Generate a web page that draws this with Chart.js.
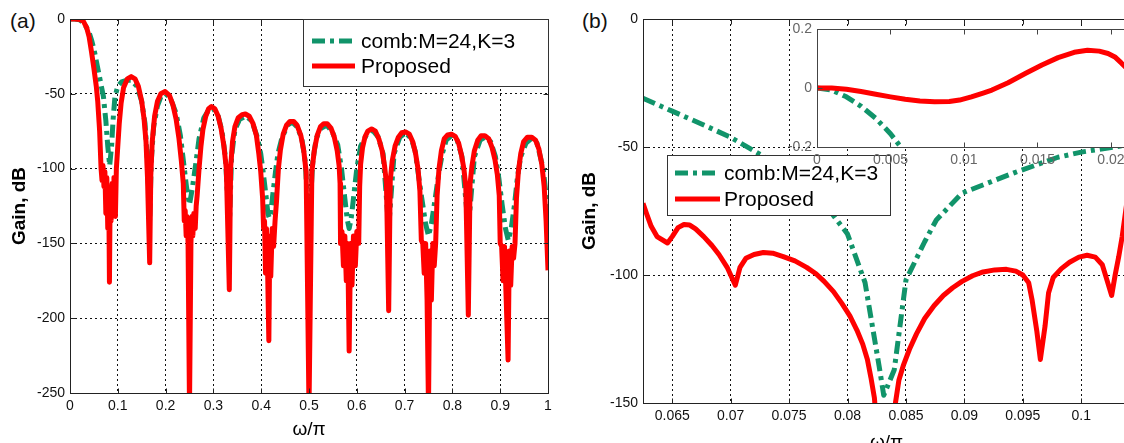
<!DOCTYPE html>
<html lang="en">
<head>
<meta charset="UTF-8" />
<title>Gain response</title>
<script src="https://cdn.jsdelivr.net/npm/chart.js@4"></script>
<style>
  html, body { margin: 0; padding: 0; background: #fff; overflow: hidden; }
  body { width: 1124px; height: 443px; position: relative; font-family: Arial, "Liberation Sans", sans-serif; }
  canvas { position: absolute; top: 0; }
  #chartA { left: 0; }
  #chartB { left: 580px; }
  #chartC { left: 777px; }
  .tag { position: absolute; top: 9px; font-size: 21px; line-height: 24px; color: #111; }
</style>
</head>
<body>
<div class="tag" style="left:10px">(a)</div>
<div class="tag" style="left:582px">(b)</div>
<canvas id="chartA" width="560" height="443"></canvas>
<canvas id="chartB" width="580" height="443"></canvas>
<canvas id="chartC" width="430" height="180"></canvas>
<script>
const FONT = 'Arial, "Liberation Sans", sans-serif';
const RED = '#ff0000';
const GREEN = '#11946a';
const DASHDOT = [13, 5, 4, 5];

// tick labels
const xTicksA = [0, 0.1, 0.2, 0.3, 0.4, 0.5, 0.6, 0.7, 0.8, 0.9, 1];
const yTicksA = [0, -50, -100, -150, -200, -250];
const xTicksB = [0.065, 0.07, 0.075, 0.08, 0.085, 0.09, 0.095, 0.1];
const yTicksB = [0, -50, -100, -150];
const xTicksC = [0, 0.005, 0.01, 0.015, 0.02, 0.025];
const yTicksC = [-0.2, 0, 0.2];

const seriesNames = ['comb:M=24,K=3', 'Proposed'];

// (a) full band, [w/pi, dB]
const combA = [
  [0,0],[0.01,0],[0.02,-0.5],[0.03,-3],[0.04,-9],[0.045,-14],[0.05,-20],[0.055,-28],[0.06,-36],
  [0.065,-44],[0.07,-52],[0.075,-68],[0.079,-85],[0.083,-98],[0.087,-85],[0.09,-68],[0.094,-52],
  [0.1,-45],[0.108,-42],[0.118,-41],[0.128,-41],[0.14,-45],[0.15,-55],[0.157,-70],[0.162,-95],
  [0.1667,-135],[0.17,-95],[0.175,-72],[0.183,-58],[0.19,-52],[0.2,-50],[0.21,-53],[0.222,-63],
  [0.231,-78],[0.238,-97],[0.244,-113],[0.25,-124],[0.256,-113],[0.263,-97],[0.27,-80],[0.28,-66],
  [0.29,-61],[0.3,-60],[0.31,-65],[0.318,-75],[0.325,-92],[0.3333,-140],[0.338,-92],[0.345,-74],
  [0.355,-67],[0.368,-65],[0.38,-68],[0.392,-79],[0.399,-90],[0.404,-102],[0.41,-118],[0.414,-130],
  [0.417,-133],[0.42,-130],[0.424,-118],[0.43,-102],[0.435,-90],[0.443,-80],[0.455,-71],[0.465,-69],
  [0.475,-72],[0.485,-80],[0.492,-95],[0.5,-140],[0.508,-95],[0.515,-80],[0.525,-73],[0.537,-71],
  [0.548,-75],[0.56,-84],[0.568,-100],[0.575,-120],[0.58,-134],[0.584,-140],[0.588,-134],[0.593,-120],
  [0.6,-100],[0.608,-85],[0.621,-77],[0.632,-74],[0.645,-79],[0.655,-90],[0.6667,-140],[0.678,-90],
  [0.69,-79],[0.702,-76],[0.714,-80],[0.722,-88],[0.728,-102],[0.736,-120],[0.744,-137],[0.75,-145],
  [0.756,-137],[0.764,-120],[0.772,-102],[0.779,-90],[0.787,-81],[0.798,-78],[0.81,-81],[0.82,-92],
  [0.8333,-140],[0.846,-92],[0.858,-81],[0.868,-79],[0.88,-82],[0.89,-92],[0.897,-106],[0.904,-124],
  [0.911,-140],[0.917,-148],[0.923,-140],[0.93,-124],[0.936,-106],[0.943,-92],[0.954,-83],
  [0.965,-80],[0.977,-83],[0.99,-100],[1,-130]
];
const propA = [
  [0,0],[0.01,0],[0.02,-0.3],[0.028,-1.5],[0.035,-6],[0.04,-12],[0.045,-22],[0.05,-33],[0.055,-45],
  [0.058,-55],[0.062,-75],[0.065,-100],[0.067,-108],[0.069,-98],[0.071,-112],[0.073,-102],
  [0.075,-130],[0.077,-106],[0.079,-140],[0.081,-112],[0.0825,-176],[0.084,-118],[0.086,-135],
  [0.088,-110],[0.09,-130],[0.092,-106],[0.095,-132],[0.097,-100],[0.1,-85],[0.103,-70],[0.107,-56],
  [0.112,-46],[0.12,-40],[0.128,-38.5],[0.136,-40],[0.143,-45],[0.15,-55],[0.155,-67],[0.159,-82],
  [0.162,-105],[0.1667,-163],[0.169,-105],[0.172,-82],[0.177,-65],[0.183,-55],[0.19,-50],
  [0.199,-48.5],[0.208,-51],[0.215,-57],[0.222,-67],[0.228,-80],[0.233,-95],[0.237,-110],
  [0.239,-135],[0.241,-128],[0.243,-145],[0.245,-132],[0.247,-150],[0.25,-260],[0.253,-150],
  [0.255,-132],[0.257,-145],[0.259,-130],[0.262,-140],[0.264,-125],[0.266,-118],[0.27,-100],
  [0.274,-85],[0.278,-74],[0.284,-65],[0.29,-60],[0.296,-58.5],[0.303,-60],[0.31,-65],[0.316,-73],
  [0.322,-85],[0.327,-100],[0.3333,-181],[0.336,-100],[0.34,-82],[0.345,-72],[0.352,-66],[0.36,-64],
  [0.367,-63.5],[0.375,-65],[0.383,-70],[0.39,-78],[0.395,-90],[0.399,-102],[0.403,-120],
  [0.405,-140],[0.407,-135],[0.409,-170],[0.411,-140],[0.413,-160],[0.416,-215],[0.418,-145],
  [0.42,-172],[0.423,-140],[0.426,-152],[0.429,-135],[0.432,-122],[0.436,-100],[0.44,-88],
  [0.446,-77],[0.453,-71],[0.46,-68.5],[0.468,-68.5],[0.475,-71],[0.483,-78],[0.489,-88],
  [0.494,-102],[0.5,-260],[0.506,-102],[0.511,-88],[0.517,-78],[0.524,-72],[0.531,-70],[0.538,-70],
  [0.546,-73],[0.553,-79],[0.559,-88],[0.563,-98],[0.565,-110],[0.566,-150],[0.569,-142],
  [0.572,-165],[0.575,-145],[0.578,-175],[0.581,-150],[0.584,-222],[0.587,-150],[0.59,-178],
  [0.593,-145],[0.597,-165],[0.6,-142],[0.604,-150],[0.606,-112],[0.608,-97],[0.612,-86],
  [0.617,-79],[0.623,-75],[0.631,-73.5],[0.639,-75],[0.646,-80],[0.653,-88],[0.658,-98],[0.662,-110],
  [0.6667,-195],[0.67,-108],[0.674,-95],[0.68,-85],[0.687,-79],[0.694,-76],[0.702,-75.5],[0.71,-77],
  [0.717,-82],[0.723,-90],[0.728,-100],[0.732,-115],[0.735,-148],[0.738,-150],[0.741,-170],
  [0.744,-150],[0.747,-188],[0.75,-260],[0.753,-155],[0.756,-188],[0.759,-150],[0.762,-165],
  [0.765,-150],[0.768,-118],[0.772,-100],[0.777,-88],[0.783,-80],[0.79,-77.5],[0.798,-77],
  [0.806,-78.5],[0.813,-83],[0.819,-91],[0.824,-100],[0.828,-112],[0.8333,-198],[0.837,-110],
  [0.841,-98],[0.846,-88],[0.853,-81],[0.86,-78],[0.868,-78],[0.876,-80],[0.883,-86],[0.889,-94],
  [0.894,-104],[0.898,-118],[0.9,-150],[0.903,-152],[0.906,-175],[0.909,-152],[0.912,-182],
  [0.9165,-228],[0.919,-155],[0.922,-178],[0.925,-152],[0.928,-160],[0.931,-150],[0.934,-120],
  [0.938,-102],[0.943,-90],[0.949,-82],[0.957,-79],[0.966,-79],[0.974,-81],[0.981,-87],[0.987,-97],
  [0.992,-112],[0.996,-135],[1,-168]
];

// (b) zoom around the first null
const combB = [
  [0.0625,-31],[0.065,-36],[0.0675,-41],[0.0699,-46],[0.0735,-55.5],[0.0765,-65],[0.0785,-75],
  [0.08,-84],[0.0815,-103],[0.0827,-135.5],[0.0831,-147],[0.084,-137],[0.085,-102],[0.0866,-87],
  [0.0876,-78.5],[0.0898,-68],[0.0943,-60],[0.098,-54],[0.1,-52],[0.1042,-49]
];
const propB = [
  [0.0625,-72],[0.0628,-76],[0.0632,-81],[0.0637,-85],[0.0646,-87.5],[0.065,-85],[0.0655,-81.5],
  [0.066,-80.3],[0.0665,-80.5],[0.067,-82],[0.0677,-85],[0.0684,-88.5],[0.069,-92],[0.0697,-97],
  [0.0704,-104],[0.0708,-97],[0.0713,-93.5],[0.072,-92],[0.0728,-91.2],[0.0736,-91.5],[0.0745,-92.8],
  [0.0755,-94.5],[0.0765,-97],[0.0773,-99.5],[0.078,-102.5],[0.0788,-106.5],[0.0795,-111],
  [0.0802,-116],[0.0808,-121.5],[0.0813,-127],[0.0817,-133],[0.082,-140],[0.0823,-148],
  [0.0826,-165],[0.0838,-165],[0.0841,-150],[0.0844,-141],[0.0848,-135],[0.0853,-129],[0.0859,-123],
  [0.0866,-117],[0.0874,-112],[0.0882,-108],[0.089,-105],[0.0898,-102.5],[0.0907,-100.3],
  [0.0916,-98.8],[0.0926,-98],[0.0936,-97.8],[0.0944,-98.5],[0.095,-100],[0.0955,-103],[0.0958,-110],
  [0.0962,-122],[0.0965,-133],[0.0969,-120],[0.0972,-107],[0.0976,-101],[0.0983,-97.5],[0.099,-95],
  [0.0998,-93],[0.1005,-92.3],[0.1012,-93],[0.1018,-96],[0.1022,-102],[0.1026,-108],[0.1029,-100],
  [0.1032,-93],[0.1035,-85],[0.1038,-75],[0.1042,-62]
];

// inset: passband ripple
const combC = [
  [0,0],[0.001,-0.007],[0.002,-0.03],[0.003,-0.062],[0.004,-0.103],[0.005,-0.155],[0.0057,-0.2],[0.0065,-0.26]
];
const propC = [
  [0,0],[0.001,0],[0.002,-0.004],[0.003,-0.012],[0.004,-0.021],[0.005,-0.03],[0.006,-0.038],
  [0.007,-0.044],[0.008,-0.047],[0.009,-0.046],[0.0097,-0.041],[0.0105,-0.03],[0.0113,-0.017],
  [0.0119,-0.007],[0.013,0.018],[0.0142,0.05],[0.0153,0.078],[0.0164,0.103],[0.0175,0.121],
  [0.0184,0.128],[0.0192,0.125],[0.0198,0.117],[0.0203,0.104],[0.0207,0.085],[0.0212,0.06],[0.022,0.02]
];

const toXY = arr => arr.map(p => ({ x: p[0], y: p[1] }));

// solid box round the plot with small inward ticks, optional white fill
const framePlugin = {
  id: 'frame',
  beforeDatasetsDraw(chart, args, opts) {
    if (!opts.fill) return;
    const a = chart.chartArea;
    chart.ctx.save();
    chart.ctx.fillStyle = opts.fill;
    chart.ctx.fillRect(a.left, a.top, a.right - a.left, a.bottom - a.top);
    chart.ctx.restore();
  },
  afterDatasetsDraw(chart, args, opts) {
    const { ctx, chartArea: a, scales } = chart;
    const L = Math.round(a.left) + 0.5, R = Math.round(a.right) + 0.5;
    const T = Math.round(a.top) + 0.5, B = Math.round(a.bottom) + 0.5;
    ctx.save();
    ctx.strokeStyle = opts.color || '#222';
    ctx.lineWidth = 1;
    ctx.setLineDash([]);
    ctx.strokeRect(L, T, R - L, B - T);
    ctx.beginPath();
    scales.x.ticks.forEach(t => {
      const px = Math.round(scales.x.getPixelForValue(t.value)) + 0.5;
      ctx.moveTo(px, B); ctx.lineTo(px, B - 5);
      ctx.moveTo(px, T); ctx.lineTo(px, T + 5);
    });
    scales.y.ticks.forEach(t => {
      const py = Math.round(scales.y.getPixelForValue(t.value)) + 0.5;
      ctx.moveTo(L, py); ctx.lineTo(L + 5, py);
      ctx.moveTo(R, py); ctx.lineTo(R - 5, py);
    });
    ctx.stroke();
    ctx.restore();
  }
};

// boxed legend inside the plot
const boxLegend = {
  id: 'boxLegend',
  afterDraw(chart, args, o) {
    if (!o.box) return;
    const ctx = chart.ctx;
    ctx.save();
    ctx.fillStyle = '#fff';
    ctx.fillRect(o.box[0], o.box[1], o.box[2], o.box[3]);
    ctx.strokeStyle = '#333';
    ctx.lineWidth = 1;
    ctx.strokeRect(o.box[0] + 0.5, o.box[1] + 0.5, o.box[2], o.box[3]);
    ctx.font = '21px ' + FONT;
    ctx.textBaseline = 'middle';
    ctx.fillStyle = '#000';
    // datasets are listed red first (drawn on top); legend shows comb first
    const order = [1, 0];
    order.forEach((di, i) => {
      const ds = chart.data.datasets[di];
      const y = o.rowY[i];
      ctx.beginPath();
      ctx.strokeStyle = ds.borderColor;
      ctx.lineWidth = 5;
      ctx.setLineDash(ds.borderDash || []);
      ctx.moveTo(o.sample[0], y);
      ctx.lineTo(o.sample[1], y);
      ctx.stroke();
      ctx.setLineDash([]);
      ctx.fillText(ds.label, o.textX, y + 1);
    });
    ctx.restore();
  }
};

function axis(min, max, ticks, o) {
  return {
    type: 'linear',
    min: min,
    max: max,
    afterBuildTicks: s => { s.ticks = ticks.map(v => ({ value: v })); },
    afterFit: s => {
      if (o.width !== undefined) s.width = o.width;
      if (o.height !== undefined) s.height = o.height;
    },
    grid: { color: o.gridColor || '#111', lineWidth: 1, drawTicks: false },
    border: { display: false, dash: [2, 3] },
    ticks: {
      padding: 5,
      autoSkip: false,
      maxRotation: 0,
      color: o.tickColor || '#111',
      font: { family: FONT, size: 14 },
      callback: v => String(v)
    },
    title: o.title
      ? { display: true, text: o.title, color: '#000', padding: o.titlePad,
          font: { family: FONT, size: 19, weight: o.bold ? 'bold' : 'normal' } }
      : { display: false }
  };
}

function lineSets(comb, prop, width) {
  return [
    { label: seriesNames[1], data: toXY(prop), borderColor: RED, borderWidth: width,
      pointRadius: 0, tension: 0, borderJoinStyle: 'round', clip: 0 },
    { label: seriesNames[0], data: toXY(comb), borderColor: GREEN, borderWidth: width,
      borderDash: DASHDOT, pointRadius: 0, tension: 0, borderJoinStyle: 'round', clip: 0 }
  ];
}

const common = {
  responsive: false,
  animation: false,
  events: [],
  plugins: { legend: { display: false }, tooltip: { enabled: false } }
};

new Chart(document.getElementById('chartA'), {
  type: 'line',
  data: { datasets: lineSets(combA, propA, 5) },
  options: Object.assign({}, common, {
    layout: { padding: { top: 19, right: 12, left: 0, bottom: 0 } },
    scales: {
      x: axis(0, 1, xTicksA, { height: 50, title: 'ω/π', titlePad: { top: 0, bottom: 1.6 } }),
      y: axis(-250, 0, yTicksA, { width: 70, title: 'Gain, dB', bold: true, titlePad: { top: 8.6, bottom: 0 } })
    },
    plugins: Object.assign({}, common.plugins, {
      frame: {},
      boxLegend: { box: [303, 19, 245, 67], rowY: [41, 66], sample: [312, 355], textX: 361 }
    })
  }),
  plugins: [framePlugin, boxLegend]
});

new Chart(document.getElementById('chartB'), {
  type: 'line',
  data: { datasets: lineSets(combB, propB, 5) },
  options: Object.assign({}, common, {
    layout: { padding: { top: 19, right: 30, left: 0, bottom: 0 } },
    scales: {
      x: axis(0.0625, 0.10417, xTicksB, { height: 40, title: 'ω/π', titlePad: { top: 0, bottom: -11 } }),
      y: axis(-150, 0, yTicksB, { width: 63, title: 'Gain, dB', bold: true, titlePad: { top: -1.4, bottom: 0 } })
    },
    plugins: Object.assign({}, common.plugins, {
      frame: {},
      boxLegend: { box: [87, 155, 223, 60], rowY: [173, 199], sample: [95, 140], textX: 144 }
    })
  }),
  plugins: [framePlugin, boxLegend]
});

new Chart(document.getElementById('chartC'), {
  type: 'line',
  data: { datasets: lineSets(combC, propC, 5) },
  options: Object.assign({}, common, {
    layout: { padding: { top: 29, right: 20, left: 0, bottom: 0 } },
    scales: {
      x: axis(0, 0.025, xTicksC, { height: 33, tickColor: '#666', gridColor: '#333' }),
      y: axis(-0.2, 0.2, yTicksC, { width: 40, tickColor: '#666', gridColor: '#333' })
    },
    plugins: Object.assign({}, common.plugins, {
      frame: { fill: '#fff', color: '#444' },
      boxLegend: {}
    })
  }),
  plugins: [framePlugin, boxLegend]
});
</script>
</body>
</html>
